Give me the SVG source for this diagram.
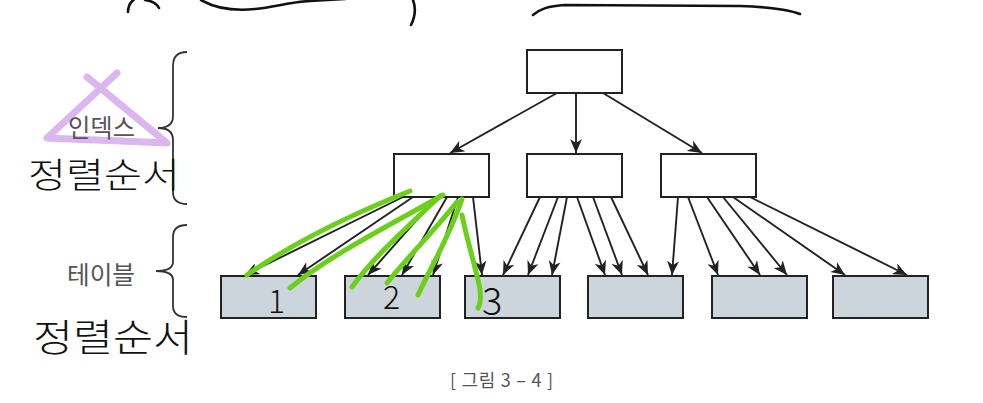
<svg xmlns="http://www.w3.org/2000/svg" width="983" height="403" viewBox="0 0 983 403">
<style>
.box{fill:#ffffff;stroke:#222;stroke-width:2}
.tbl{fill:#cdd5dc;stroke:#222;stroke-width:2}
.con{stroke:#222;stroke-width:1.9;fill:none;marker-end:url(#ah)}
.lbl{font-family:"Noto Sans CJK KR","Noto Sans",sans-serif;font-size:25px;fill:#555}
.cap{font-family:"Noto Sans CJK KR","Noto Sans",sans-serif;font-size:18px;fill:#555}
.brace{fill:none;stroke:#333;stroke-width:1.8}
.hw{font-family:"Noto Sans CJK KR",sans-serif;fill:#111;font-weight:300}
.ink{fill:none;stroke:#111;stroke-width:2.6;stroke-linecap:round}
.green{fill:none;stroke:#6ccf1c;stroke-width:5;stroke-linecap:round}
.pink{fill:none;stroke:#dcb6ee;stroke-width:7;stroke-linecap:round;stroke-linejoin:round}
</style>
<defs>
<marker id="ah" viewBox="0 0 14 12" refX="14" refY="6" markerWidth="14" markerHeight="12" orient="auto" markerUnits="userSpaceOnUse">
<path d="M0,0 L14,6 L0,12 L4,6 z" fill="#222"/>
</marker>
</defs>
<rect width="983" height="403" fill="#ffffff"/>

<g id="annotation-top-strokes">
<path class="ink" d="M128,12 C128,5 131,1 136,-2"/>
<path class="ink" d="M145,0 C152,1 157,4 159,8"/>
<path class="ink" d="M201,0 C215,8 235,11 255,9 C275,7 290,2 310,1 L345,-1"/>
<path class="ink" d="M413,0 C416,8 415,17 411,25"/>
<path class="ink" d="M533,15 C540,9 548,6 565,5 L740,6 C770,7 790,10 800,14"/>
</g>

<g id="connectors">
<line class="con" x1="557" y1="93" x2="450" y2="153"/>
<line class="con" x1="576" y1="93" x2="576" y2="153"/>
<line class="con" x1="603" y1="93" x2="702" y2="153"/>

<line class="con" x1="403" y1="197" x2="245" y2="275"/>
<line class="con" x1="413" y1="197" x2="298" y2="275"/>
<line class="con" x1="437" y1="197" x2="368" y2="275"/>
<line class="con" x1="447" y1="197" x2="402" y2="275"/>
<line class="con" x1="458" y1="197" x2="433" y2="275"/>
<line class="con" x1="473" y1="197" x2="482" y2="275"/>

<line class="con" x1="540" y1="197" x2="503" y2="275"/>
<line class="con" x1="558" y1="197" x2="528" y2="275"/>
<line class="con" x1="567" y1="197" x2="552" y2="275"/>
<line class="con" x1="577" y1="197" x2="605" y2="275"/>
<line class="con" x1="593" y1="197" x2="622" y2="275"/>
<line class="con" x1="611" y1="197" x2="648" y2="275"/>

<line class="con" x1="678" y1="197" x2="672" y2="275"/>
<line class="con" x1="688" y1="197" x2="718" y2="275"/>
<line class="con" x1="707" y1="197" x2="760" y2="275"/>
<line class="con" x1="723" y1="197" x2="787" y2="275"/>
<line class="con" x1="733" y1="197" x2="845" y2="275"/>
<line class="con" x1="750" y1="197" x2="907" y2="275"/>
</g>

<g id="root"><rect class="box" x="527" y="50" width="95" height="43"/></g>
<g id="index-1"><rect class="box" x="394" y="154" width="95" height="43"/></g>
<g id="index-2"><rect class="box" x="527" y="154" width="95" height="43"/></g>
<g id="index-3"><rect class="box" x="661" y="154" width="95" height="43"/></g>
<g id="table-1"><rect class="tbl" x="221" y="276" width="95" height="42"/></g>
<g id="table-2"><rect class="tbl" x="345" y="276" width="95" height="42"/></g>
<g id="table-3"><rect class="tbl" x="465" y="276" width="95" height="42"/></g>
<g id="table-4"><rect class="tbl" x="588" y="276" width="95" height="42"/></g>
<g id="table-5"><rect class="tbl" x="712" y="276" width="95" height="42"/></g>
<g id="table-6"><rect class="tbl" x="833" y="276" width="95" height="42"/></g>

<g id="brace-index">
<path class="brace" d="M187,52 C178,52 173,56 173,66 L173,116 C173,124 168,128 158,128 C168,128 173,132 173,140 L173,192 C173,200 178,204 187,204"/>
</g>
<g id="brace-table">
<path class="brace" d="M187,225 C178,225 173,229 173,237 L173,262 C173,268 167,271 156,271 C167,271 173,274 173,280 L173,306 C173,313 178,317 187,317"/>
</g>

<g id="annotation-pink">
<path class="pink" d="M117,73 L47,138 C85,140 130,141 167,143 L87,77"/>
</g>

<g id="label-index"><text class="lbl" x="68" y="137" textLength="67" lengthAdjust="spacingAndGlyphs">인덱스</text></g>
<g id="label-table"><text class="lbl" x="67" y="284" textLength="68" lengthAdjust="spacingAndGlyphs">테이블</text></g>
<g id="caption"><text class="cap" x="450" y="387" textLength="103" lengthAdjust="spacing">[ 그림 3 – 4 ]</text></g>

<g id="annotation-green">
<path class="green" d="M410,191 C350,215 290,245 247,275"/>
<path class="green" d="M443,195 C390,225 330,255 290,288"/>
<path class="green" d="M440,196 C410,225 375,255 352,287"/>
<path class="green" d="M457,202 C435,230 405,260 387,283"/>
<path class="green" d="M462,199 C450,235 432,265 418,295"/>
<path class="green" d="M462,215 C468,245 478,275 480,290 C481,300 480,305 478,308"/>
</g>

<g id="annotation-handwriting">
<text class="hw" x="28" y="188" font-size="35" textLength="152" lengthAdjust="spacingAndGlyphs">정렬순서</text>
<text class="hw" x="33" y="351" font-size="38" textLength="160" lengthAdjust="spacingAndGlyphs">정렬순서</text>
<text class="hw" x="268" y="313" font-size="32">1</text>
<text class="hw" x="383" y="309" font-size="32">2</text>
<text class="hw" x="482" y="315" font-size="38">3</text>
</g>
</svg>
